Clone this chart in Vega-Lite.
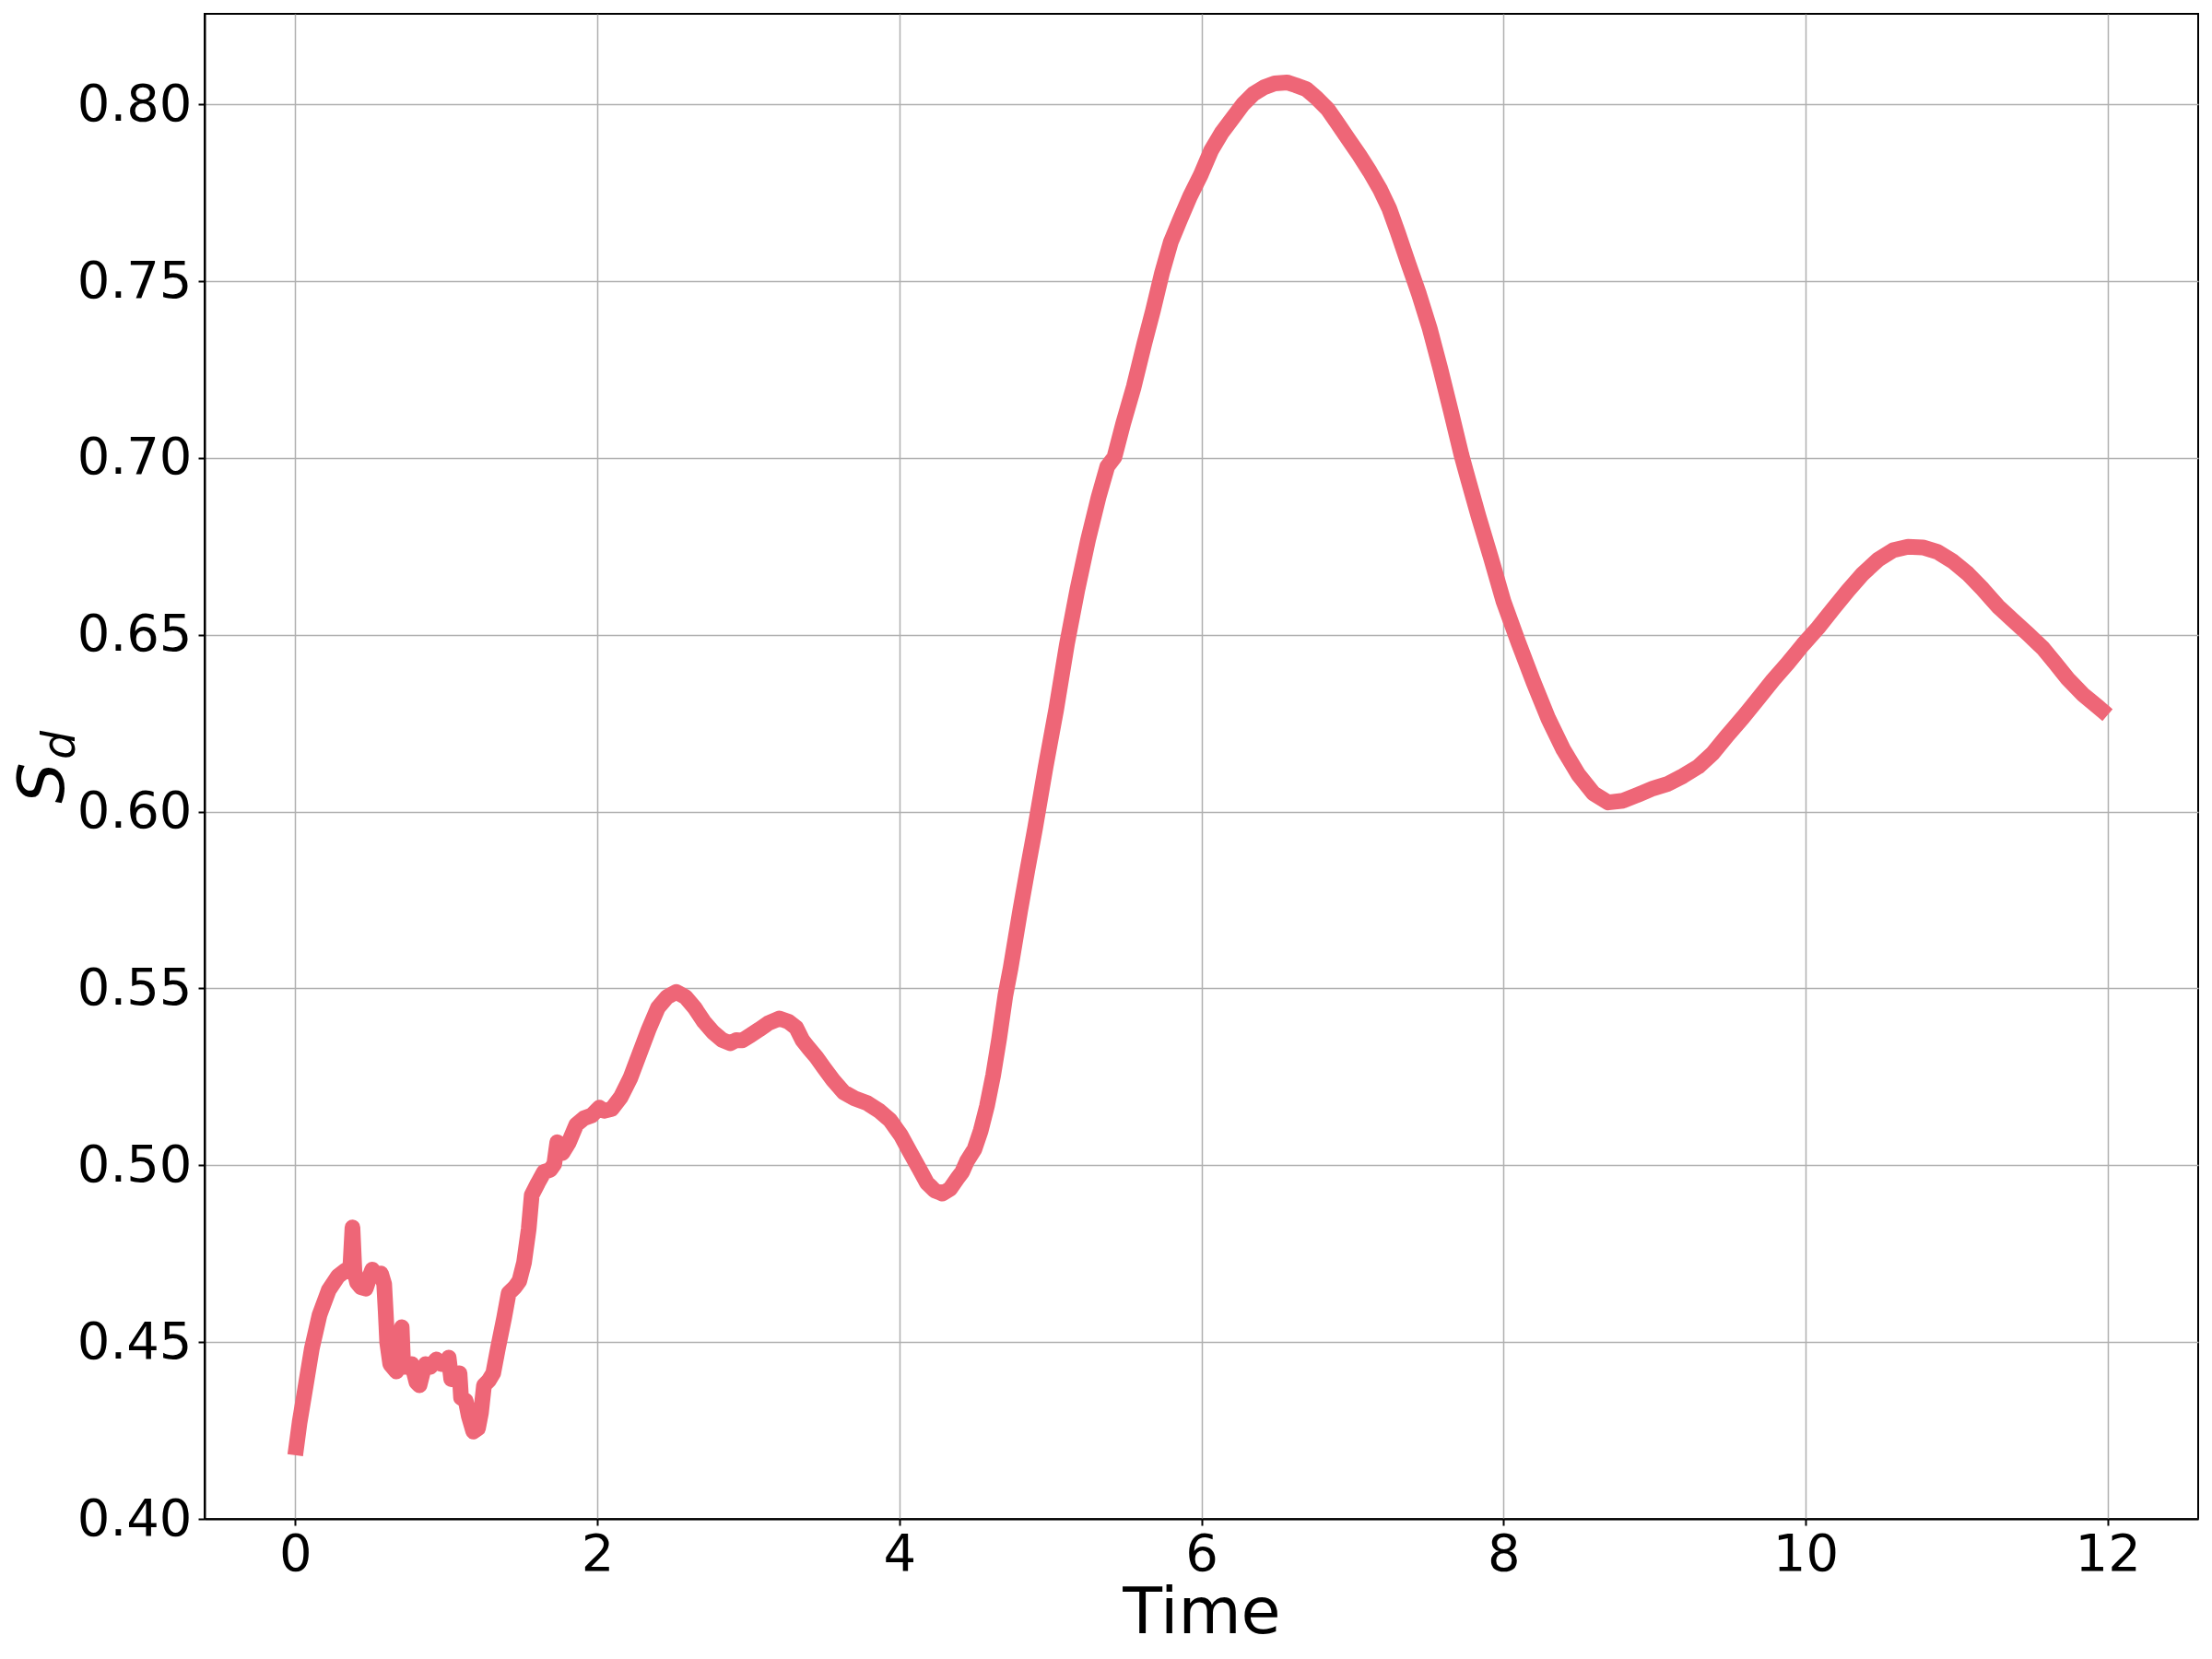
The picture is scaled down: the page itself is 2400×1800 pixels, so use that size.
{
  "$schema": "https://vega.github.io/schema/vega-lite/v6.json",
  "autosize": {"type": "none"},
  "padding": {"left": 222, "top": 15, "right": 15, "bottom": 152},
  "width": 2163,
  "height": 1633,
  "background": "white",
  "config": {
    "view": {"stroke": "black", "strokeWidth": 2},
    "font": "DejaVu Sans"
  },
  "data": {"values": [
    {"t":0,"s":0.418},{"t":0.029,"s":0.4273},{"t":0.07,"s":0.4378},{"t":0.11,"s":0.4482},{"t":0.161,"s":0.4577},
    {"t":0.222,"s":0.4647},{"t":0.283,"s":0.4686},{"t":0.334,"s":0.4703},{"t":0.365,"s":0.4712},{"t":0.379,"s":0.4824},
    {"t":0.392,"s":0.47},{"t":0.41,"s":0.4668},{"t":0.435,"s":0.4655},{"t":0.467,"s":0.4651},{"t":0.497,"s":0.469},
    {"t":0.51,"s":0.4705},{"t":0.538,"s":0.469},{"t":0.568,"s":0.4694},{"t":0.589,"s":0.4664},{"t":0.599,"s":0.4586},
    {"t":0.609,"s":0.4499},{"t":0.629,"s":0.4438},{"t":0.67,"s":0.4417},{"t":0.69,"s":0.4438},{"t":0.705,"s":0.4542},
    {"t":0.715,"s":0.443},{"t":0.731,"s":0.443},{"t":0.772,"s":0.4438},{"t":0.803,"s":0.4386},{"t":0.823,"s":0.4378},
    {"t":0.843,"s":0.4412},{"t":0.864,"s":0.4438},{"t":0.894,"s":0.443},{"t":0.935,"s":0.4451},{"t":0.966,"s":0.4438},
    {"t":0.996,"s":0.4438},{"t":1.016,"s":0.4456},{"t":1.033,"s":0.4395},{"t":1.058,"s":0.4395},{"t":1.088,"s":0.4412},
    {"t":1.098,"s":0.4343},{"t":1.129,"s":0.4334},{"t":1.149,"s":0.4291},{"t":1.179,"s":0.4247},{"t":1.21,"s":0.4256},
    {"t":1.23,"s":0.43},{"t":1.25,"s":0.4378},{"t":1.281,"s":0.4391},{"t":1.311,"s":0.4412},{"t":1.342,"s":0.4482},
    {"t":1.383,"s":0.4568},{"t":1.413,"s":0.4638},{"t":1.454,"s":0.4655},{"t":1.484,"s":0.4673},{"t":1.515,"s":0.4725},
    {"t":1.546,"s":0.482},{"t":1.566,"s":0.4916},{"t":1.607,"s":0.495},{"t":1.647,"s":0.4981},{"t":1.688,"s":0.4987},
    {"t":1.715,"s":0.5003},{"t":1.735,"s":0.5065},{"t":1.77,"s":0.5035},{"t":1.81,"s":0.5063},{"t":1.861,"s":0.5115},
    {"t":1.912,"s":0.5133},{"t":1.963,"s":0.5141},{"t":2.014,"s":0.5163},{"t":2.045,"s":0.5154},{"t":2.095,"s":0.5159},
    {"t":2.156,"s":0.5193},{"t":2.218,"s":0.5246},{"t":2.279,"s":0.5315},{"t":2.34,"s":0.5384},{"t":2.401,"s":0.5445},
    {"t":2.462,"s":0.5476},{"t":2.523,"s":0.549},{"t":2.584,"s":0.5476},{"t":2.645,"s":0.5445},{"t":2.706,"s":0.5406},
    {"t":2.767,"s":0.5376},{"t":2.828,"s":0.5354},{"t":2.88,"s":0.5345},{"t":2.92,"s":0.5354},{"t":2.96,"s":0.5353},
    {"t":3.012,"s":0.5367},{"t":3.073,"s":0.5384},{"t":3.134,"s":0.5402},{"t":3.205,"s":0.5415},{"t":3.266,"s":0.5406},
    {"t":3.317,"s":0.5389},{"t":3.358,"s":0.5354},{"t":3.399,"s":0.5332},{"t":3.45,"s":0.5306},{"t":3.5,"s":0.5276},
    {"t":3.561,"s":0.5241},{"t":3.633,"s":0.5206},{"t":3.704,"s":0.5189},{"t":3.786,"s":0.5176},{"t":3.867,"s":0.5154},
    {"t":3.938,"s":0.5128},{"t":4.01,"s":0.5085},{"t":4.071,"s":0.5037},{"t":4.132,"s":0.499},{"t":4.183,"s":0.495},
    {"t":4.233,"s":0.4929},{"t":4.285,"s":0.492},{"t":4.335,"s":0.4933},{"t":4.386,"s":0.4964},{"t":4.416,"s":0.4981},
    {"t":4.447,"s":0.5011},{"t":4.498,"s":0.5046},{"t":4.539,"s":0.5098},{"t":4.58,"s":0.5167},{"t":4.621,"s":0.5254},
    {"t":4.661,"s":0.5358},{"t":4.702,"s":0.548},{"t":4.737,"s":0.5558},{"t":4.8,"s":0.572},{"t":4.85,"s":0.584},
    {"t":4.898,"s":0.5951},{"t":4.968,"s":0.6125},{"t":5.039,"s":0.629},{"t":5.109,"s":0.6472},{"t":5.179,"s":0.6628},
    {"t":5.249,"s":0.6767},{"t":5.319,"s":0.6889},{"t":5.377,"s":0.6976},{"t":5.424,"s":0.7002},{"t":5.482,"s":0.7097},
    {"t":5.552,"s":0.7201},{"t":5.622,"s":0.7323},{"t":5.68,"s":0.7418},{"t":5.739,"s":0.7523},{"t":5.797,"s":0.761},
    {"t":5.855,"s":0.767},{"t":5.925,"s":0.774},{"t":5.995,"s":0.78},{"t":6.065,"s":0.787},{"t":6.135,"s":0.792},
    {"t":6.205,"s":0.796},{"t":6.275,"s":0.8},{"t":6.345,"s":0.803},{"t":6.415,"s":0.8048},{"t":6.485,"s":0.8059},
    {"t":6.567,"s":0.8062},{"t":6.625,"s":0.8054},{"t":6.695,"s":0.8043},{"t":6.765,"s":0.8017},{"t":6.835,"s":0.7987},
    {"t":6.905,"s":0.7944},{"t":6.975,"s":0.79},{"t":7.045,"s":0.7857},{"t":7.115,"s":0.781},{"t":7.185,"s":0.7758},
    {"t":7.244,"s":0.7705},{"t":7.302,"s":0.7636},{"t":7.372,"s":0.7548},{"t":7.442,"s":0.7462},{"t":7.512,"s":0.7366},
    {"t":7.582,"s":0.7253},{"t":7.652,"s":0.7132},{"t":7.722,"s":0.7008},{"t":7.769,"s":0.6935},{"t":7.835,"s":0.6835},
    {"t":7.917,"s":0.6718},{"t":8.0,"s":0.6595},{"t":8.099,"s":0.6478},{"t":8.198,"s":0.6367},{"t":8.298,"s":0.6262},
    {"t":8.397,"s":0.6175},{"t":8.496,"s":0.6105},{"t":8.595,"s":0.6052},{"t":8.694,"s":0.6026},{"t":8.793,"s":0.6031},
    {"t":8.893,"s":0.6048},{"t":8.992,"s":0.6066},{"t":9.091,"s":0.6079},{"t":9.19,"s":0.6101},{"t":9.289,"s":0.6127},
    {"t":9.388,"s":0.6166},{"t":9.488,"s":0.6218},{"t":9.587,"s":0.6267},{"t":9.686,"s":0.6319},{"t":9.785,"s":0.6372},
    {"t":9.884,"s":0.642},{"t":9.983,"s":0.6472},{"t":10.083,"s":0.652},{"t":10.182,"s":0.6573},{"t":10.281,"s":0.6625},
    {"t":10.38,"s":0.6673},{"t":10.479,"s":0.6712},{"t":10.579,"s":0.6739},{"t":10.678,"s":0.6749},{"t":10.777,"s":0.6747},
    {"t":10.876,"s":0.6734},{"t":10.975,"s":0.6708},{"t":11.074,"s":0.6673},{"t":11.174,"s":0.6629},{"t":11.273,"s":0.6581},
    {"t":11.372,"s":0.6542},{"t":11.471,"s":0.6503},{"t":11.57,"s":0.6463},{"t":11.653,"s":0.642},{"t":11.736,"s":0.6376},
    {"t":11.835,"s":0.6332},{"t":11.934,"s":0.6297},{"t":12.0,"s":0.6273}
  ]},
  "layer": [
    {
      "mark": {"type": "line", "color": "#EE6677", "strokeWidth": 17, "strokeCap": "butt", "strokeJoin": "round", "clip": true},
      "encoding": {
        "x": {
          "field": "t", "type": "quantitative",
          "scale": {"domain": [-0.6, 12.6], "nice": false, "zero": false},
          "axis": {
            "title": "Time", "values": [0, 2, 4, 6, 8, 10, 12], "format": "d",
            "labelFontSize": 56, "labelFont": "DejaVu Sans", "labelColor": "black",
            "titleFontSize": 70, "titleFont": "DejaVu Sans", "titleFontWeight": "normal", "titleColor": "black",
            "titlePadding": 2, "labelPadding": 4, "tickSize": 7, "tickWidth": 2, "tickColor": "black",
            "domainColor": "black", "domainWidth": 2,
            "grid": true, "gridColor": "#b0b0b0", "gridWidth": 1.5, "labelFlush": false
          }
        },
        "y": {
          "field": "s", "type": "quantitative",
          "scale": {"domain": [0.4, 0.8256], "nice": false, "zero": false},
          "axis": {
            "title": "S", "values": [0.4, 0.45, 0.5, 0.55, 0.6, 0.65, 0.7, 0.75, 0.8], "format": ".2f",
            "labelFontSize": 56, "labelFont": "DejaVu Sans", "labelColor": "black",
            "titleFontSize": 70, "titleFont": "DejaVu Sans", "titleFontStyle": "italic", "titleFontWeight": "normal", "titleColor": "black",
            "titleX": -154, "titleY": 834, "titleAngle": 270, "titleAlign": "center", "titleBaseline": "alphabetic",
            "labelPadding": 7, "tickSize": 7, "tickWidth": 2, "tickColor": "black",
            "domainColor": "black", "domainWidth": 2,
            "grid": true, "gridColor": "#b0b0b0", "gridWidth": 1.5, "labelFlush": false
          }
        }
      }
    },
    {
      "mark": {"type": "line", "strokeOpacity": 0, "clip": true},
      "encoding": {
        "x": {"field": "t", "type": "quantitative", "axis": null},
        "y": {
          "field": "s", "type": "quantitative",
          "axis": {
            "orient": "left", "title": "d", "labels": false, "ticks": false, "domain": false, "grid": false,
            "titleFontSize": 49, "titleFont": "DejaVu Sans", "titleFontStyle": "italic", "titleFontWeight": "normal", "titleColor": "black",
            "titleX": -142, "titleY": 793, "titleAngle": 270, "titleAlign": "center", "titleBaseline": "alphabetic"
          }
        }
      }
    }
  ],
  "resolve": {"axis": {"y": "independent", "x": "independent"}}
}
